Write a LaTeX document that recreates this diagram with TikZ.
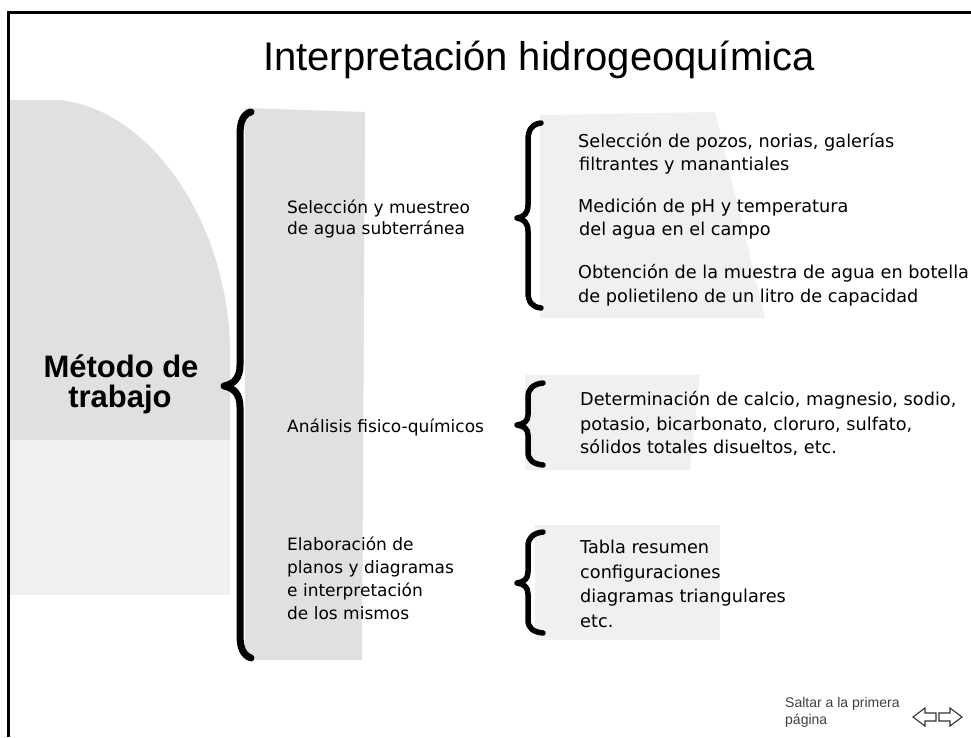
\documentclass[tikz,border=0pt]{standalone}
\usepackage{fontspec}
\setmainfont{DejaVu Sans}
\newfontfamily\arialf{Liberation Sans}
\begin{document}
\begin{tikzpicture}[x=1pt,y=-1pt,
  txt/.style={anchor=base west, inner sep=0pt, font=\fontsize{17}{20}\selectfont},
  rtxt/.style={anchor=base west, inner sep=0pt, font=\fontsize{17.7}{20}\selectfont},
  bigbrace/.style={line width=7pt, line cap=round, line join=round},
  smallbrace/.style={line width=5.5pt, line cap=round, line join=round},
  speck/.style={fill=black!12},
  speckl/.style={fill=black!6},
  navarrow/.style={draw=black!80, line width=1.1pt, line join=miter}]
\useasboundingbox (0,0) rectangle (971,737);
\fill[white] (0,0) rectangle (971,737);
% speckled backgrounds
\path[speck] (8,100) -- (60,100) .. controls (150,110) and (226,220) .. (230,345) -- (230,440) -- (8,440) -- cycle;
\path[speckl] (8,440) -- (230,440) -- (230,595) -- (8,595) -- cycle;
\path[speck] (245,108) -- (365,112) -- (362,660) -- (245,660) -- cycle;
\path[speckl] (540,115) -- (715,112) -- (765,318) -- (540,318) -- cycle;
\path[speckl] (525,375) -- (700,375) -- (690,470) -- (525,470) -- cycle;
\path[speckl] (535,525) -- (720,525) -- (720,640) -- (535,640) -- cycle;
% frame
\draw[line width=3pt] (8,737) -- (8,12) -- (971,12);
% braces
\draw[bigbrace] (251,112) .. controls (243,114) and (240,122) .. (240,135) -- (240,365) .. controls (240,378) and (234,384) .. (224,386) .. controls (234,388) and (240,394) .. (240,407) -- (240,635) .. controls (240,648) and (243,655) .. (251,658);
\draw[smallbrace] (541,123) .. controls (532,124) and (528,130) .. (528,140) -- (528,205) .. controls (528,213) and (524,217) .. (517,218) .. controls (524,219) and (528,223) .. (528,231) -- (528,292) .. controls (528,302) and (532,307) .. (541,308);
\draw[smallbrace] (543,383) .. controls (533,384) and (528,389) .. (528,397) -- (528,415) .. controls (528,421) and (524,424) .. (517,425) .. controls (524,426) and (528,429) .. (528,435) -- (528,452) .. controls (528,460) and (533,464) .. (543,465);
\draw[smallbrace] (543,532) .. controls (533,533) and (528,538) .. (528,546) -- (528,572) .. controls (528,579) and (524,582) .. (517,583) .. controls (524,584) and (528,587) .. (528,594) -- (528,620) .. controls (528,628) and (533,632) .. (543,633);
% title
\node[anchor=base west, inner sep=0pt, font=\arialf\fontsize{40}{48}\selectfont] (title) at (263,70) {Interpretación hidrogeoquímica};
% method
\node[anchor=base, inner sep=0pt, font=\arialf\bfseries\fontsize{31}{31}\selectfont] (m1) at (121,377) {Método de};
\node[anchor=base, inner sep=0pt, font=\arialf\bfseries\fontsize{31}{31}\selectfont] (m2) at (120,407) {trabajo};
% middle
\node[txt] (s1) at (287,213) {Selección y muestreo};
\node[txt] (s2) at (287,234) {de agua subterránea};
\node[txt] (a1) at (287,432) {Análisis fisico-químicos};
\node[txt] (e1) at (287,550) {Elaboración de};
\node[txt] (e2) at (287,573) {planos y diagramas};
\node[txt] (e3) at (287,596) {e interpretación};
\node[txt] (e4) at (287,619) {de los mismos};
% right
\node[rtxt] (r1) at (578,147) {Selección de pozos, norias, galerías};
\node[rtxt] (r2) at (579,170) {filtrantes y manantiales};
\node[rtxt] (r3) at (578,212) {Medición de pH y temperatura};
\node[rtxt] (r4) at (579,235) {del agua en el campo};
\node[rtxt] (r5) at (578,278) {Obtención de la muestra de agua en botella};
\node[rtxt] (r6) at (578,302) {de polietileno de un litro de capacidad};
\node[rtxt] (d1) at (580,405) {Determinación de calcio, magnesio, sodio,};
\node[rtxt] (d2) at (580,430) {potasio, bicarbonato, cloruro, sulfato,};
\node[rtxt] (d3) at (580,453) {sólidos totales disueltos, etc.};
\node[rtxt] (t1) at (580,553) {Tabla resumen};
\node[rtxt] (t2) at (580,578) {configuraciones};
\node[rtxt] (t3) at (580,602) {diagramas triangulares};
\node[rtxt] (t4) at (580,627) {etc.};
% navigation
\node[anchor=base west, inner sep=0pt, text=black!75, font=\arialf\fontsize{14}{16}\selectfont] (nav1) at (785,707) {Saltar a la primera};
\node[anchor=base west, inner sep=0pt, text=black!75, font=\arialf\fontsize{14}{16}\selectfont] (nav2) at (785,724) {página};
\draw[navarrow] (913,717) -- (925,708) -- (925,713) -- (936,713) -- (936,721) -- (925,721) -- (925,726) -- cycle;
\draw[navarrow] (962,717) -- (950,708) -- (950,713) -- (939,713) -- (939,721) -- (950,721) -- (950,726) -- cycle;
\end{tikzpicture}
\end{document}
